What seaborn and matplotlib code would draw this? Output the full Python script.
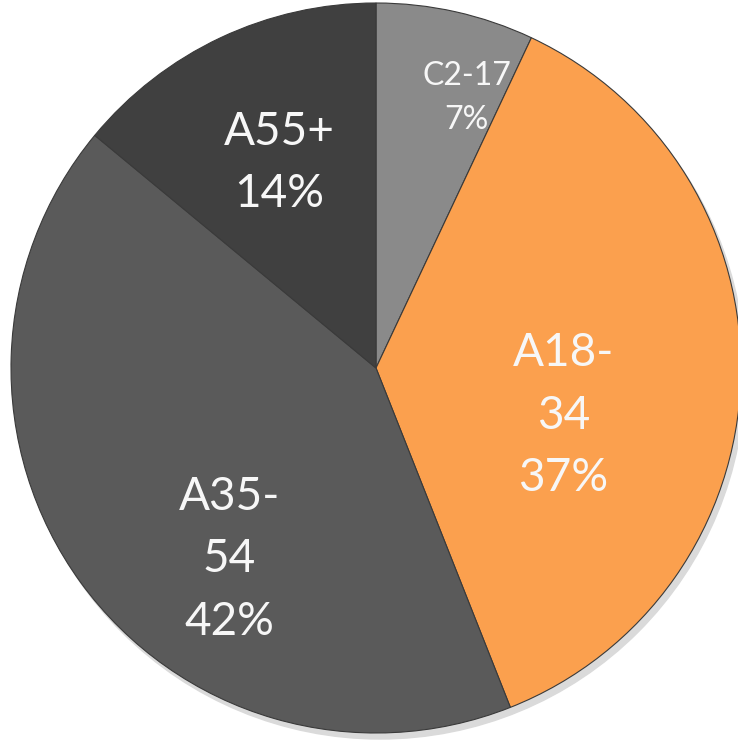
import numpy as np
import matplotlib
matplotlib.use("Agg")
import matplotlib.pyplot as plt
import seaborn as sns

# ---- data ----
segments = ["C2-17", "A18-\n34", "A35-\n54", "A55+"]
shares = [7, 37, 42, 14]
colors = ["#8a8a8a", "#fba04e", "#5a5a5a", "#404040"]
# label placement (radius fraction, angle offset in degrees, font size)
label_radius = [0.78, 0.53, 0.66, 0.62]
label_angle_shift = [-6.0, -12.5, 16.5, 0.0]
label_size = [23, 33, 33, 33]

sns.set_theme(style="white")
plt.rcParams["font.family"] = ["Lato", "DejaVu Sans"]

W, H = 738, 742
fig = plt.figure(figsize=(W / 100, H / 100), dpi=100)
ax = fig.add_axes([0, 0, 1, 1])
ax.set_xlim(0, W)
ax.set_ylim(0, H)
ax.set_aspect("equal")
ax.axis("off")

cx, cy, R = 376, H - 368, 365
pal = sns.color_palette(colors)

# subtle shadow
shadow = plt.Circle((cx + 4, cy - 6), R, color="#dadada", zorder=0)
ax.add_patch(shadow)

wedges, _ = ax.pie(shares, colors=pal, startangle=90, counterclock=False,
                   center=(cx, cy), radius=R, frame=True,
                   wedgeprops=dict(edgecolor="#3a3a3a", linewidth=0.8))
ax.set_xlim(0, W)
ax.set_ylim(0, H)
ax.axis("off")

for w, lab, rf, da, fs in zip(wedges, segments, label_radius, label_angle_shift, label_size):
    mid = np.deg2rad((w.theta1 + w.theta2) / 2 + da)
    x = cx + R * rf * np.cos(mid)
    y = cy + R * rf * np.sin(mid)
    pct = f"{shares[segments.index(lab)]}%"
    ax.text(x, y, f"{lab}\n{pct}", ha="center", va="center", color="#f7f7f7",
            fontsize=fs, linespacing=1.6, zorder=5)

fig.savefig("out.png", dpi=100, facecolor="white")
